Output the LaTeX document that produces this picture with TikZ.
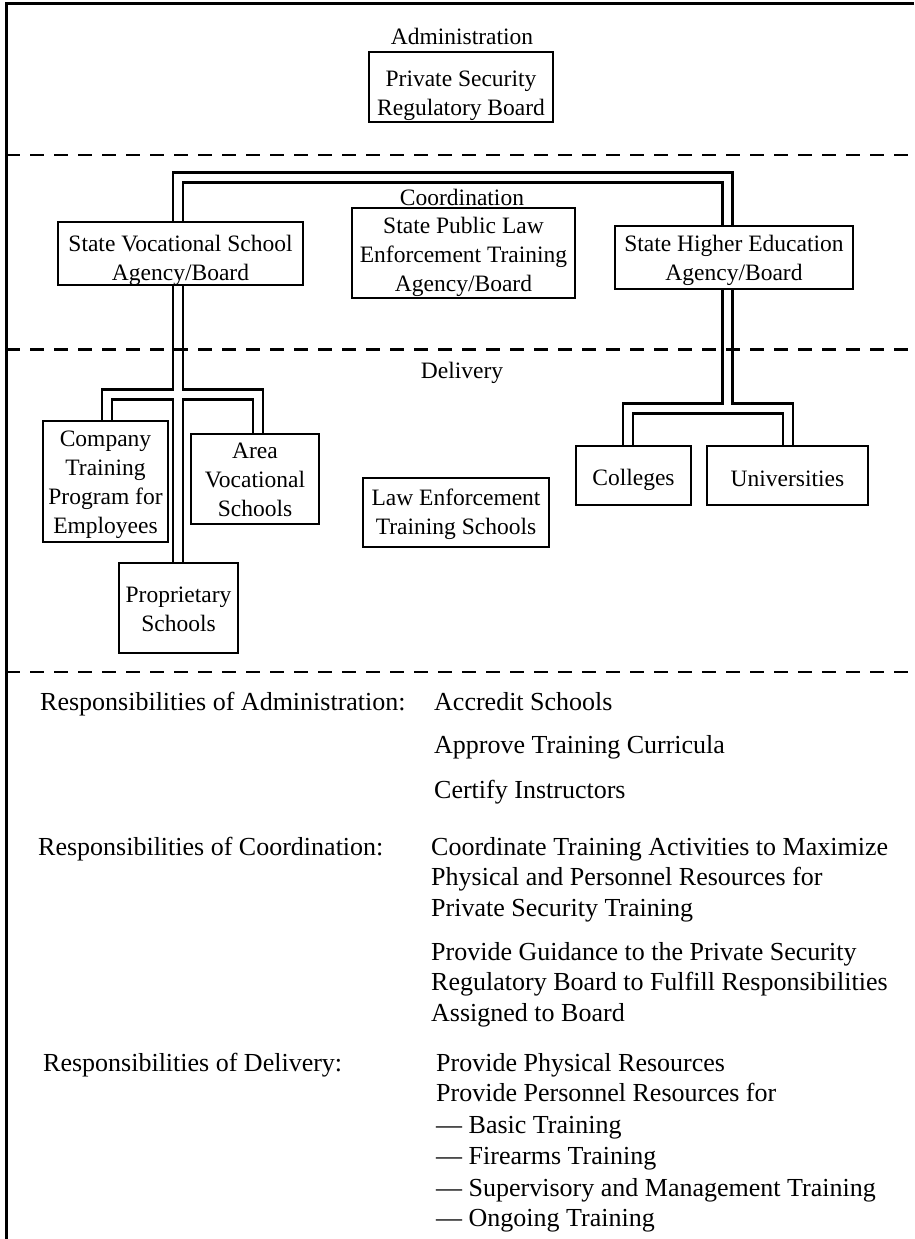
\documentclass[tikz,border=0pt]{standalone}
\usepackage{fontspec}
\setmainfont{Liberation Serif}
\newcommand{\diagfont}{\fontsize{23.5}{29}\selectfont}
\newcommand{\respfont}{\fontsize{26}{30.5}\selectfont}
\begin{document}
\begin{tikzpicture}[x=1pt,y=-1pt,
  box/.style={draw,line width=2.4pt,fill=white,inner sep=0pt},
  btext/.style={inner sep=0pt,align=center,font=\diagfont},
  lbl/.style={inner sep=0pt,font=\diagfont},
  resp/.style={anchor=base west,inner sep=0pt,font=\respfont},
  pipeout/.style={line width=12.4pt,line join=miter},
  pipein/.style={line width=7.6pt,white,line join=miter},
  divider/.style={dash pattern=on 14pt off 10pt,line width=2.7pt},
  frame/.style={line width=3pt}]
\useasboundingbox (0,0) rectangle (914,1239);

% frame
\draw[frame] (914,4) -- (6,4) -- (6,1239);

% section titles
\node[lbl] (admlbl) at (462,36) {Administration};
\node[lbl] (coordlbl) at (462,197) {Coordination};
\node[lbl] (dellbl) at (462,373) {Delivery};

% pipe bend points
\coordinate (cTL) at (178,177.5);
\coordinate (cTR) at (727.5,177.5);
\coordinate (jL) at (178,394.5);
\coordinate (jR) at (727.5,408.5);
\coordinate (bL1) at (107,394.5);
\coordinate (bL2) at (258,394.5);
\coordinate (bR1) at (628,408.5);
\coordinate (bR2) at (788,408.5);

% box positions (anchors only)
\path
  node[minimum width=245,minimum height=63,inner sep=0pt] (voc) at (180.5,253.5) {}
  node[minimum width=238,minimum height=63,inner sep=0pt] (hed) at (734,257.5) {}
  node[minimum width=125,minimum height=121,inner sep=0pt] (comp) at (105.5,481.5) {}
  node[minimum width=128,minimum height=90,inner sep=0pt] (area) at (255,479) {}
  node[minimum width=119,minimum height=90,inner sep=0pt] (prop) at (178.5,608) {}
  node[minimum width=115,minimum height=59,inner sep=0pt] (coll) at (633.5,475.5) {}
  node[minimum width=161,minimum height=59,inner sep=0pt] (univ) at (787.5,475.5) {};

% double-line connectors: black then white
\foreach \s in {pipeout,pipein}{
  \draw[\s] (prop.north -| jL) -- (cTL) -- (cTR) -- (jR);
  \draw[\s] (comp.north -| bL1) -- (bL1) -- (bL2) -- (area.north -| bL2);
  \draw[\s] (coll.north -| bR1) -- (bR1) -- (bR2) -- (univ.north -| bR2);
}

% dashed dividers
\draw[divider] (6,155) -- (914,155);
\draw[divider] (6,349.5) -- (914,349.5);
\draw[divider] (6,672) -- (914,672);

% boxes
\node[box,minimum width=184,minimum height=70,
  label={[btext,yshift=-9pt]center:{Private Security\\Regulatory Board}}] (psrb) at (461,87) {};
\node[box,minimum width=245,minimum height=63,
  label={[btext,yshift=-7pt]center:{State Vocational School\\Agency/Board}}] (vocb) at (voc) {};
\node[box,minimum width=223,minimum height=90,
  label={[btext,yshift=-3.5pt]center:{State Public Law\\Enforcement Training\\Agency/Board}}] (spl) at (463.5,253) {};
\node[box,minimum width=238,minimum height=63,
  label={[btext,yshift=-3pt]center:{State Higher Education\\Agency/Board}}] (hedb) at (hed) {};
\node[box,minimum width=125,minimum height=121,
  label={[btext,yshift=-3pt]center:{Company\\Training\\Program for\\Employees}}] (compb) at (comp) {};
\node[box,minimum width=128,minimum height=90,
  label={[btext,yshift=-0.5pt]center:{Area\\Vocational\\Schools}}] (areab) at (area) {};
\node[box,minimum width=119,minimum height=90,
  label={[btext,yshift=-1.5pt]center:{Proprietary\\Schools}}] (propb) at (prop) {};
\node[box,minimum width=186,minimum height=69,
  label={[btext,yshift=-2pt]center:{Law Enforcement\\Training Schools}}] (lets) at (456,512.5) {};
\node[box,minimum width=115,minimum height=59,
  label={[btext,yshift=-4pt]center:{Colleges}}] (collb) at (coll) {};
\node[box,minimum width=161,minimum height=59,
  label={[btext,yshift=-3pt]center:{Universities}}] (univb) at (univ) {};

% responsibilities
\node[resp] (ra) at (40,710) {Responsibilities of Administration:};
\node[resp] (ra1) at (434,710) {Accredit Schools};
\node[resp] (ra2) at (434,753) {Approve Training Curricula};
\node[resp] (ra3) at (434,798) {Certify Instructors};

\node[resp] (rc) at (38,855) {Responsibilities of Coordination:};
\node[resp] (rc1) at (431,855) {Coordinate Training Activities to Maximize};
\node[resp] (rc2) at (431,885.5) {Physical and Personnel Resources for};
\node[resp] (rc3) at (431,916) {Private Security Training};
\node[resp] (rc4) at (431,960) {Provide Guidance to the Private Security};
\node[resp] (rc5) at (431,990.5) {Regulatory Board to Fulfill Responsibilities};
\node[resp] (rc6) at (431,1021) {Assigned to Board};

\node[resp] (rd) at (43,1071) {Responsibilities of Delivery:};
\node[resp] (rd1) at (436,1071) {Provide Physical Resources};
\node[resp] (rd2) at (436,1101.5) {Provide Personnel Resources for};
\node[resp] (rd3) at (436,1133) {— Basic Training};
\node[resp] (rd4) at (436,1164.5) {— Firearms Training};
\node[resp] (rd5) at (436,1196) {— Supervisory and Management Training};
\node[resp] (rd6) at (436,1226) {— Ongoing Training};
\end{tikzpicture}
\end{document}
